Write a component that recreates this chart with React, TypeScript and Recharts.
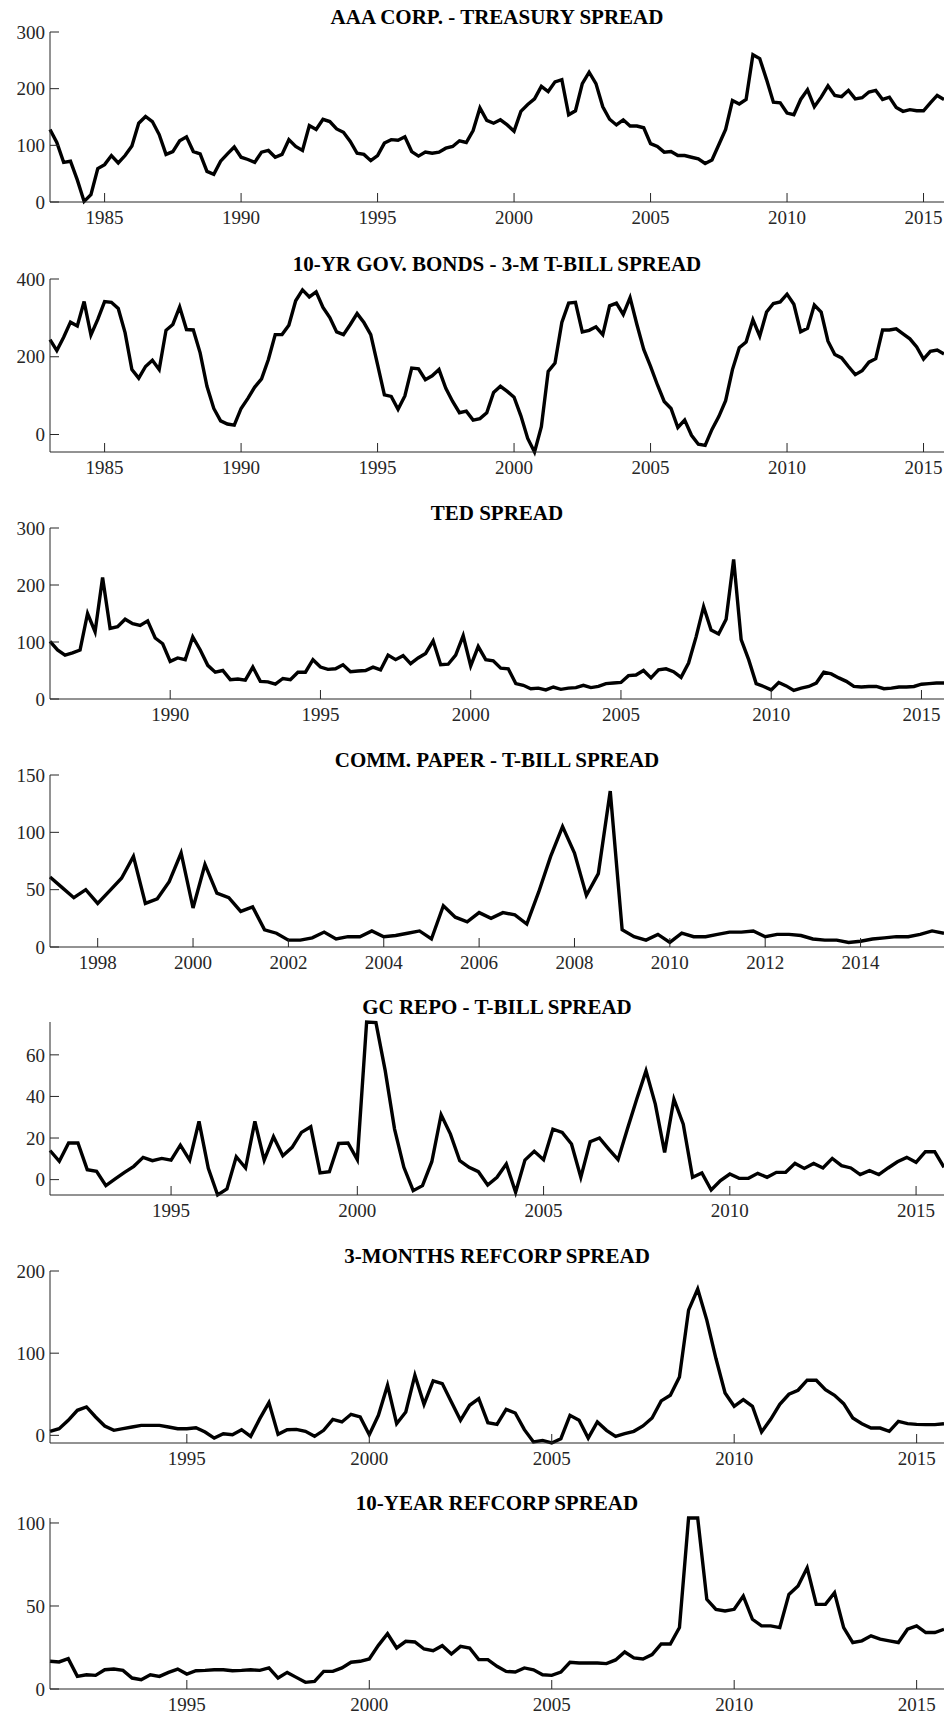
import React from 'react'
import { LineChart, Line, XAxis, YAxis } from 'recharts'

// quarterly series, first value at the start year, then one value per quarter up to 2015Q4
const aaaStart = 1983
const aaaSpread = [
  128, 105, 70, 72, 39, 1, 13, 59, 66, 82,
  69, 82, 99, 139, 151, 142, 119, 84, 89, 108,
  115, 89, 85, 54, 49, 72, 85, 97, 79, 75,
  70, 88, 91, 79, 84, 110, 98, 91, 135, 128,
  146, 142, 129, 123, 107, 86, 84, 73, 82, 104,
  110, 109, 115, 89, 81, 88, 86, 88, 95, 98,
  108, 105, 126, 166, 144, 139, 145, 136, 125, 160,
  172, 182, 204, 195, 212, 216, 154, 161, 209, 229,
  209, 168, 146, 136, 145, 134, 134, 131, 103, 98,
  88, 89, 82, 82, 79, 76, 68, 74, 101, 128,
  179, 173, 181, 260, 253, 216, 176, 175, 157, 154,
  181, 198, 168, 185, 205, 188, 186, 197, 182, 184,
  194, 197, 181, 185, 167, 160, 163, 161, 161, 175,
  188, 181,
]

const termStart = 1983
const termSpread = [
  244, 216, 250, 289, 279, 342, 256, 296, 342, 340,
  324, 262, 167, 145, 175, 191, 167, 268, 283, 328,
  270, 269, 210, 124, 67, 35, 27, 24, 67, 93,
  122, 143, 193, 257, 257, 281, 344, 372, 354, 367,
  327, 301, 264, 257, 283, 311, 288, 257, 180, 102,
  98, 65, 99, 171, 169, 141, 151, 167, 119, 85,
  56, 60, 37, 41, 56, 108, 124, 111, 96, 48,
  -10, -45, 20, 162, 184, 288, 338, 340, 264, 268,
  277, 257, 331, 338, 309, 352, 283, 219, 175, 128,
  85, 67, 18, 37, -2, -25, -28, 13, 46, 87,
  167, 223, 238, 295, 253, 315, 337, 341, 361, 335,
  264, 273, 333, 315, 240, 206, 197, 175, 154, 164,
  186, 195, 269, 269, 272, 259, 246, 225, 194, 214,
  217, 207,
]

const tedStart = 1986
const tedSpread = [
  101, 86, 77, 81, 86, 150, 118, 213, 124, 127,
  140, 132, 129, 137, 107, 97, 66, 72, 69, 109,
  86, 59, 47, 50, 34, 35, 33, 56, 31, 30,
  26, 36, 34, 47, 47, 69, 56, 52, 53, 60,
  48, 49, 50, 56, 51, 77, 69, 76, 62, 72,
  80, 102, 60, 61, 77, 111, 58, 92, 69, 67,
  54, 53, 27, 24, 18, 19, 16, 21, 17, 19,
  20, 24, 20, 22, 27, 28, 29, 41, 42, 50,
  37, 51, 53, 48, 38, 63, 109, 162, 121, 114,
  140, 245, 104, 69, 27, 22, 16, 29, 23, 15,
  19, 22, 28, 47, 44, 37, 31, 22, 21, 22,
  22, 18, 19, 21, 21, 22, 26, 27, 28, 28,
]

const cpStart = 1997
const cpSpread = [
  61, 52, 43, 50, 38, 49, 60, 79, 38, 42,
  57, 82, 34, 72, 47, 43, 31, 35, 15, 12,
  6, 6, 8, 13, 7, 9, 9, 14, 9, 10,
  12, 14, 7, 36, 26, 22, 30, 25, 30, 28,
  20, 48, 79, 105, 82, 45, 64, 136, 15, 9,
  6, 11, 4, 12, 9, 9, 11, 13, 13, 14,
  9, 11, 11, 10, 7, 6, 6, 4, 5, 7,
  8, 9, 9, 11, 14, 12,
]

const repoStart = 1991.75
const repoSpread = [
  14, 8.8, 17.6, 17.6, 4.8, 4, -2.9, 0.3, 3.5, 6.4,
  10.7, 9.1, 10.2, 9.4, 16.6, 9.4, 28, 5.4, -7.4, -4.5,
  11, 5.6, 28, 9.4, 20.6, 11.5, 15.5, 22.7, 25.4, 3.2,
  3.8, 17.4, 17.6, 9.6, 75.8, 75.5, 52.3, 24.3, 5.9, -5.3,
  -2.9, 8.6, 31.2, 21.9, 9.1, 5.9, 3.8, -2.6, 1.1, 7.5,
  -6.1, 9.4, 13.6, 9.6, 24.3, 22.7, 17.1, 1.1, 18.2, 20,
  14.7, 9.6, 24.3, 38.7, 52.3, 36.3, 13.1, 38.7, 26.7, 1.1,
  3.2, -5, -0.5, 2.7, 0.6, 0.6, 3, 1.1, 3.5, 3.5,
  7.8, 5.4, 7.8, 5.6, 10.2, 6.7, 5.6, 2.4, 4.3, 2.4,
  5.6, 8.6, 10.7, 8.3, 13.4, 13.4, 5.9,
]

const ref3mStart = 1991.25
const ref3mSpread = [
  4.9, 8.1, 18.3, 30.5, 34.6, 22.4, 11.4, 6.1, 8.1, 10.2,
  12.2, 12.2, 12.2, 10.2, 8.1, 8.1, 9.3, 4.1, -3.3, 2,
  0.8, 6.9, -1.2, 20.3, 39.8, 1.2, 6.9, 7.3, 4.9, -1.2,
  6.1, 19.5, 16.3, 25.6, 22.4, 0.8, 24.4, 61, 14.2, 28.5,
  73.2, 37.8, 66.3, 63, 40.7, 18.3, 36.6, 44.7, 15.4, 13.4,
  31.7, 27.2, 6.9, -8.1, -6.1, -9.3, -4.1, 24.4, 18.3, -3.3,
  16.3, 6.1, -1.2, 2, 4.9, 11.4, 21.1, 41.9, 48.8, 71.1,
  152.4, 178, 140.2, 93.5, 51.6, 35.4, 43.5, 35.4, 4.1, 19.5,
  37.8, 50, 54.9, 67.1, 67.1, 55.7, 48.8, 38.6, 21.1, 14.2,
  8.9, 8.9, 4.9, 17.1, 14.2, 13.4, 13, 13, 14.2,
]

const ref10yStart = 1991.25
const ref10ySpread = [
  16.7, 16.3, 18.3, 7.6, 8.6, 8.2, 11.6, 12, 11.2, 6.6,
  5.6, 8.6, 7.6, 10, 12, 9, 11, 11.2, 11.6, 11.6,
  11, 11.2, 11.6, 11.2, 12.7, 6.6, 10, 7, 4, 4.6,
  10.6, 10.6, 12.7, 16.1, 16.7, 18.1, 26.3, 33.3, 24.7, 28.7,
  28.3, 24.1, 23.1, 26.1, 21.1, 25.7, 24.7, 17.7, 17.7, 13.7,
  10.6, 10.2, 12.7, 11.6, 8.6, 8.2, 10.2, 16.1, 15.7, 15.7,
  15.7, 15.3, 17.5, 22.3, 18.7, 18.1, 20.7, 27.1, 27.1, 37,
  103, 103, 54, 48, 47, 48, 56, 42, 38, 38,
  37, 57, 62, 73, 51, 51, 58, 37, 28, 29,
  32, 30, 29, 28, 36, 38, 34, 34, 36,
]

const ticksFrom1985 = [1985, 1990, 1995, 2000, 2005, 2010, 2015]
const ticksFrom1990 = [1990, 1995, 2000, 2005, 2010, 2015]
const ticksFrom1995 = [1995, 2000, 2005, 2010, 2015]
const ticksEven = [1998, 2000, 2002, 2004, 2006, 2008, 2010, 2012, 2014]

const lastQuarter = 2015.75

const serif = '"Liberation Serif", "Times New Roman", serif'
const axisColor = '#262626'
const tickStyle = { fontFamily: serif, fontSize: 19, fill: axisColor }

function toRows(start: number, values: number[]) {
  return values.map((v, i) => ({ t: start + i / 4, v }))
}

interface PanelProps {
  title: string
  top: number
  bottom: number
  start: number
  values: number[]
  yDomain: any[]
  yTicks: number[]
  xTicks: number[]
}

function Panel({ title, top, bottom, start, values, yDomain, yTicks, xTicks }: PanelProps) {
  const mTop = 14 // room for the top tick label
  const axisH = 36
  const plotH = bottom - top
  return (
    <div style={{ position: 'absolute', left: 0, top: top - mTop, width: 944 }}>
      <div
        style={{
          position: 'absolute',
          left: 50,
          width: 894,
          top: mTop - 15.5 - 12,
          height: 24,
          lineHeight: '24px',
          textAlign: 'center',
          fontFamily: serif,
          fontWeight: 'bold',
          fontSize: 21,
          color: '#000',
          whiteSpace: 'nowrap',
        }}
      >
        {title}
      </div>
      <LineChart
        width={944}
        height={mTop + plotH + axisH}
        data={toRows(start, values)}
        margin={{ top: mTop, right: 0, bottom: 0, left: 0 }}
      >
        <XAxis
          dataKey="t"
          type="number"
          domain={[start, lastQuarter]}
          ticks={xTicks}
          interval={0}
          height={axisH}
          tickSize={-9}
          tickMargin={18}
          stroke={axisColor}
          tick={tickStyle}
        />
        <YAxis
          type="number"
          domain={yDomain}
          ticks={yTicks}
          interval={0}
          width={50}
          tickSize={-9}
          tickMargin={14}
          stroke={axisColor}
          tick={tickStyle}
        />
        <Line
          type="linear"
          dataKey="v"
          stroke="#000"
          strokeWidth={3.4}
          dot={false}
          isAnimationActive={false}
        />
      </LineChart>
    </div>
  )
}

export default function App() {
  return (
    <div style={{ position: 'absolute', left: 0, top: 0, width: 944, height: 1718, background: '#fff' }}>
      <Panel title="AAA CORP. - TREASURY SPREAD" top={32} bottom={202} start={aaaStart}
        values={aaaSpread} yDomain={[0, 300]} yTicks={[0, 100, 200, 300]} xTicks={ticksFrom1985} />
      <Panel title="10-YR GOV. BONDS - 3-M T-BILL SPREAD" top={279} bottom={452} start={termStart}
        values={termSpread} yDomain={['dataMin', 400]} yTicks={[0, 200, 400]} xTicks={ticksFrom1985} />
      <Panel title="TED SPREAD" top={528} bottom={699} start={tedStart}
        values={tedSpread} yDomain={[0, 300]} yTicks={[0, 100, 200, 300]} xTicks={ticksFrom1990} />
      <Panel title="COMM. PAPER - T-BILL SPREAD" top={775} bottom={947} start={cpStart}
        values={cpSpread} yDomain={[0, 150]} yTicks={[0, 50, 100, 150]} xTicks={ticksEven} />
      <Panel title="GC REPO - T-BILL SPREAD" top={1022} bottom={1195} start={repoStart}
        values={repoSpread} yDomain={['dataMin', 'dataMax']} yTicks={[0, 20, 40, 60]} xTicks={ticksFrom1995} />
      <Panel title="3-MONTHS REFCORP SPREAD" top={1271} bottom={1443} start={ref3mStart}
        values={ref3mSpread} yDomain={['dataMin', 200]} yTicks={[0, 100, 200]} xTicks={ticksFrom1995} />
      <Panel title="10-YEAR REFCORP SPREAD" top={1518} bottom={1689} start={ref10yStart}
        values={ref10ySpread} yDomain={[0, 'dataMax']} yTicks={[0, 50, 100]} xTicks={ticksFrom1995} />
    </div>
  )
}
